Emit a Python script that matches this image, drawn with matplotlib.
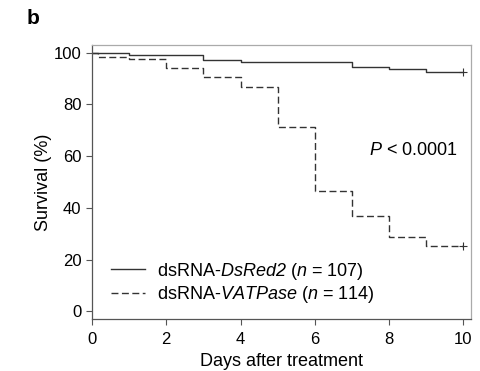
import matplotlib
matplotlib.use("Agg")
import matplotlib.pyplot as plt

plt.rcParams['font.family'] = ['Liberation Sans', 'DejaVu Sans']
plt.rcParams['mathtext.fontset'] = 'custom'
plt.rcParams['mathtext.rm'] = 'Liberation Sans:italic'
plt.rcParams['mathtext.it'] = 'Liberation Sans:italic'

# Data (Kaplan-Meier step values)
days_dsred = [0, 1, 3, 4, 7, 8, 9, 10]
surv_dsred = [100, 99.1, 97.2, 96.3, 94.4, 93.5, 92.5, 92.5]
days_vat = [0, 0.15, 1, 2, 3, 4, 5, 6, 7, 8, 9, 10]
surv_vat = [100, 98.2, 97.4, 93.9, 90.4, 86.8, 71.1, 46.5, 36.8, 28.9, 25.4, 25.4]
xticks = [0, 2, 4, 6, 8, 10]
yticks = [0, 20, 40, 60, 80, 100]
label_dsred = 'dsRNA-$DsRed2$ ($n$ = 107)'
label_vat = 'dsRNA-$VATPase$ ($n$ = 114)'

fig = plt.figure(figsize=(4.8, 3.71), dpi=100)
ax = fig.add_axes([0.1917, 0.140, 0.789, 0.739])

lc = '#333333'
ax.step(days_dsred, surv_dsred, where='post', color=lc, lw=1.0, label=label_dsred)
ax.step(days_vat, surv_vat, where='post', color=lc, lw=1.0, linestyle=(0, (5, 2.5)), label=label_vat)
ax.plot([days_dsred[-1]], [surv_dsred[-1]], marker='+', color=lc, ms=6, mew=0.8)
ax.plot([days_vat[-1]], [surv_vat[-1]], marker='+', color=lc, ms=6, mew=0.8)

ax.set_xlim(0, 10.2)
ax.set_ylim(-3, 103)
ax.set_xticks(xticks)
ax.set_yticks(yticks)
ax.tick_params(direction='out', length=4.5, width=0.8, color='#555555', labelsize=12)
ax.tick_params(axis='x', pad=5)
ax.tick_params(axis='y', pad=3)
for s in ['left', 'bottom']:
    ax.spines[s].set_color('#555555')
    ax.spines[s].set_linewidth(0.9)
for s in ['top', 'right']:
    ax.spines[s].set_color('#aaaaaa')
    ax.spines[s].set_linewidth(0.9)

ax.set_xlabel('Days after treatment', fontsize=13, labelpad=4)
ax.set_ylabel('Survival (%)', fontsize=13, labelpad=1)

ax.text(9.84, 62, '$P$ < 0.0001', ha='right', va='center', fontsize=13)

leg = ax.legend(loc='lower left', bbox_to_anchor=(0.03, 0.025), frameon=False, fontsize=13,
                handlelength=1.9, handletextpad=0.65, labelspacing=0.12, borderaxespad=0)

fig.text(0.056, 0.975, 'b', fontsize=15, fontweight='bold', va='top', ha='left')

fig.savefig('out.png', dpi=100)
